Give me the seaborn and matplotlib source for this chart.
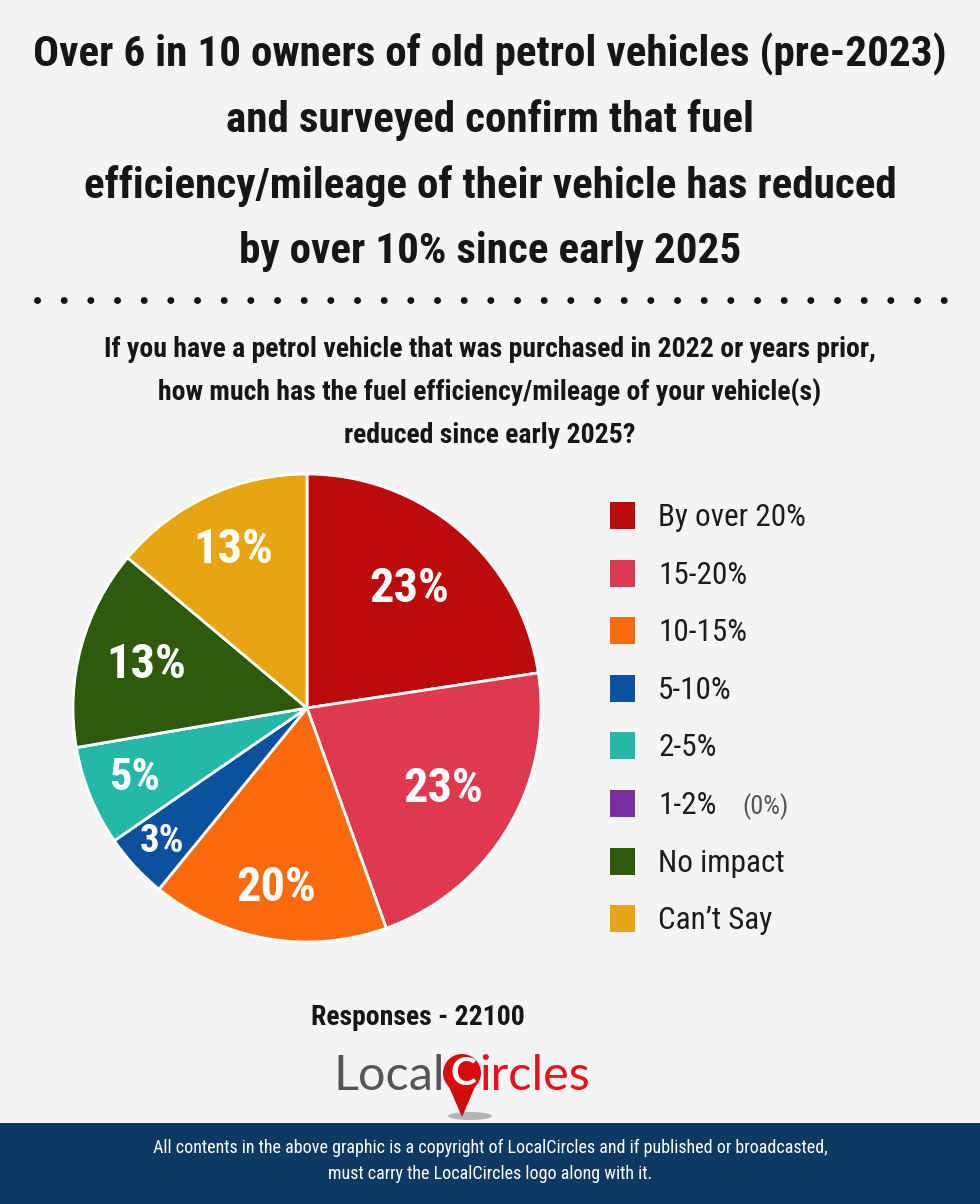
import numpy as np
import matplotlib
matplotlib.use("Agg")
import matplotlib.pyplot as plt
import seaborn as sns
from matplotlib import font_manager as fm
from matplotlib.patches import Rectangle, Circle, Polygon, Ellipse
from matplotlib.lines import Line2D

# Data
categories = ["By over 20%", "15-20%", "10-15%", "5-10%", "2-5%", "1-2%", "No impact", "Can\u2019t Say"]
pct_values = [23, 23, 20, 3, 5, 0, 13, 13]
# slice sizes as they are drawn in the picture (percent of the circle)
slice_share = [22.6, 21.9, 16.4, 4.5, 6.9, 0.0, 13.8, 13.9]
colors = ["#bd0b0b", "#e0394f", "#fd6a0e", "#0c50a0", "#24b8a8", "#7c2fa0", "#2f5a0b", "#e7a513"]

title_lines = [
    "Over 6 in 10 owners of old petrol vehicles (pre-2023)",
    "and surveyed confirm that fuel",
    "efficiency/mileage of their vehicle has reduced",
    "by over 10% since early 2025",
]
question_lines = [
    "If you have a petrol vehicle that was purchased in 2022 or years prior,",
    "how much has the fuel efficiency/mileage of your vehicle(s)",
    "reduced since early 2025?",
]
responses = 22100
footer_lines = [
    "All contents in the above graphic is a copyright of LocalCircles and if published or broadcasted,",
    "must carry the LocalCircles logo along with it.",
]

sns.set_theme(style="white")

# pick the narrowest font that is installed
entries = fm.fontManager.ttflist
def find_condensed():
    for fam in ["Roboto Condensed", "Open Sans Condensed", "Liberation Sans Narrow", "Noto Sans Condensed"]:
        if any(e.name == fam for e in entries):
            return fam, "normal"
    for fam in ["Noto Sans", "Open Sans", "DejaVu Sans"]:
        if any(e.name == fam and e.stretch in ("condensed", "semi-condensed") for e in entries):
            return fam, "condensed"
    return "Roboto", "normal"

COND, STRETCH = find_condensed()
plt.rcParams["font.family"] = [COND, "DejaVu Sans"]
TXT = "#161616"

W, H = 980, 1204
fig = plt.figure(figsize=(W / 100, H / 100), dpi=100, facecolor="#f4f4f4")
bg = fig.add_axes([0, 0, 1, 1])
bg.set_xlim(0, W)
bg.set_ylim(H, 0)
bg.axis("off")
renderer = fig.canvas.get_renderer()


def put(x, y, s, size, target_w=None, **kw):
    kw.setdefault("ha", "center")
    kw.setdefault("va", "baseline")
    kw.setdefault("color", TXT)
    t = bg.text(x, y, s, fontsize=size, fontstretch=STRETCH, **kw)
    if target_w:
        w = t.get_window_extent(renderer).width
        t.set_fontsize(min(size, size * target_w / w))
    return t


# title
t0 = put(490, 67, title_lines[0], 40, target_w=913, fontweight="bold")
tsize = t0.get_fontsize()
for i, line in enumerate(title_lines[1:], start=1):
    put(490, 67 + i * 65.3, line, tsize, fontweight="bold")

# dotted separator
bg.add_line(Line2D([37, 944], [300, 300], color="#111111", linewidth=5,
                   linestyle=(0, (0.01, 3.83)), dash_capstyle="round"))

# question
q0 = put(490, 357, question_lines[0], 20, target_w=840, fontweight="bold")
qsize = q0.get_fontsize()
for i, line in enumerate(question_lines[1:], start=1):
    put(490, 357 + i * 43, line, qsize, fontweight="bold")

# pie
cx, cy, r = 307, 708, 234
pax = fig.add_axes([(cx - r) / W, 1 - (cy + r) / H, 2 * r / W, 2 * r / H])
wedges, _ = pax.pie(slice_share, colors=colors, startangle=90, counterclock=False,
                    wedgeprops=dict(edgecolor="white", linewidth=2))
pax.set_xlim(-1, 1)
pax.set_ylim(-1, 1)
pax.set_aspect("equal")
pax.axis("off")

label_r = [0.67, 0.68, 0.78, 0.84, 0.79, 0, 0.71, 0.745]
label_size = [42, 42, 42, 28, 32, 0, 42, 42]
for w, v, lr, ls in zip(wedges, pct_values, label_r, label_size):
    if v == 0:
        continue
    a = np.deg2rad((w.theta1 + w.theta2) / 2)
    t = pax.text(lr * np.cos(a), lr * np.sin(a), f"{v}%", color="white", fontweight="bold",
                 fontsize=ls, fontstretch=STRETCH, ha="center", va="center")
    wdt = t.get_window_extent(renderer).width
    target = 80 * ls / 42
    t.set_fontsize(min(ls, ls * target / wdt))

# legend
for i, (cat, col, v) in enumerate(zip(categories, colors, pct_values)):
    yc = 515 + i * 57.6
    bg.add_patch(Rectangle((610, yc - 13), 25, 27, facecolor=col, edgecolor="none"))
    lt = put(658, yc + 11, cat, 23, ha="left", color="#1c1c1c")
    if i == 0:
        w0 = lt.get_window_extent(renderer).width
        lsize = min(23, 23 * 148 / w0)
    lt.set_fontsize(lsize)
    if v == 0:
        put(742, yc + 11, f"({v}%)", lsize * 0.85, ha="left", color="#555555")

# responses
put(418, 1025, f"Responses - {responses}", 20, target_w=223, fontweight="bold")

# LocalCircles logo
put(445, 1090, "Local", 35, ha="right", color="#555555", fontweight="normal", family="Lato")
bg.add_patch(Ellipse((470, 1116), 44, 8, facecolor="#9a9a9a", edgecolor="none", alpha=0.7))
bg.add_patch(Polygon([[447, 1082], [477, 1082], [462, 1117]], closed=True, facecolor="#d10a0a", edgecolor="none"))
bg.add_patch(Circle((462, 1073), 19, facecolor="#d80c0c", edgecolor="none"))
put(463, 1085, "C", 28, color="white", fontweight="bold", family="Lato")
put(479, 1090, "ircles", 35, ha="left", color="#e8101a", fontweight="normal", family="Lato")

# footer band
bg.add_patch(Rectangle((0, 1123), W, H - 1123, facecolor="#0d3a62", edgecolor="none"))
f0 = put(490, 1153, footer_lines[0], 13, target_w=715, color="white")
put(490, 1179, footer_lines[1], f0.get_fontsize(), color="white")

fig.savefig("out.png", dpi=100, facecolor=fig.get_facecolor())
